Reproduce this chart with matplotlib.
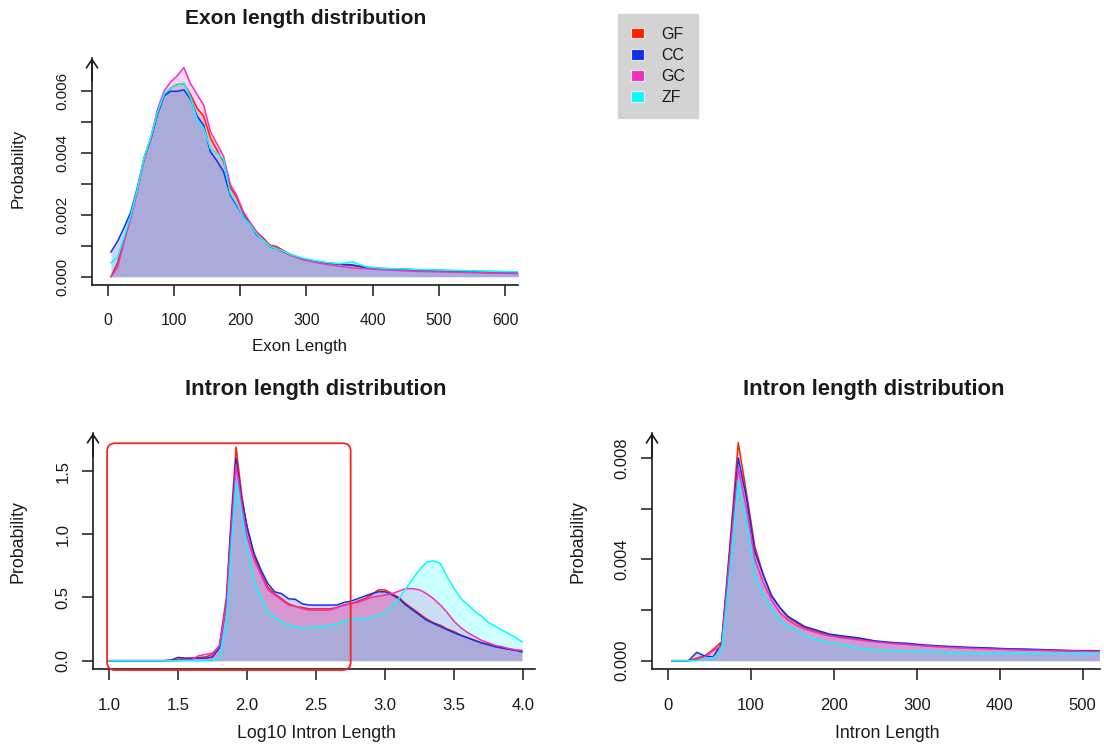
import matplotlib
matplotlib.use('Agg')
import matplotlib.pyplot as plt
from matplotlib.patches import Patch, FancyBboxPatch
from matplotlib.transforms import IdentityTransform

plt.rcParams['font.family'] = ['Liberation Sans', 'DejaVu Sans']

# ---------------- data ----------------
series_names = ['GF', 'CC', 'GC', 'ZF']
series_colors = ['#FF2000', '#1030F0', '#F030C0', '#00FFFF']

exon_x = [5, 15, 25, 35, 45, 55, 65, 75, 85, 95, 105, 115, 125, 135, 145, 155, 165, 175, 185, 195,
          205, 215, 225, 235, 245, 255, 265, 275, 285, 295, 310, 330, 350, 370, 390, 410, 430, 450,
          470, 490, 510, 530, 550, 570, 590, 610, 620]
exon_gf = [0.00000, 0.00045, 0.00120, 0.00195, 0.00280, 0.00380, 0.00445, 0.00525, 0.00585, 0.00610,
           0.00622, 0.00625, 0.00590, 0.00545, 0.00520, 0.00450, 0.00410, 0.00372, 0.00290, 0.00255,
           0.00205, 0.00175, 0.00145, 0.00125, 0.00102, 0.00098, 0.00085, 0.00073, 0.00065, 0.00058,
           0.00051, 0.00044, 0.00040, 0.00036, 0.00029, 0.00026, 0.00024, 0.00022, 0.00020, 0.00019,
           0.00018, 0.00017, 0.00016, 0.00015, 0.00014, 0.00013, 0.00013]
exon_cc = [0.00080, 0.00115, 0.00160, 0.00210, 0.00290, 0.00385, 0.00445, 0.00525, 0.00585, 0.00600,
           0.00600, 0.00605, 0.00575, 0.00520, 0.00490, 0.00405, 0.00375, 0.00340, 0.00265, 0.00230,
           0.00195, 0.00170, 0.00135, 0.00120, 0.00097, 0.00090, 0.00082, 0.00072, 0.00064, 0.00058,
           0.00052, 0.00045, 0.00041, 0.00038, 0.00030, 0.00027, 0.00025, 0.00024, 0.00022, 0.00021,
           0.00020, 0.00019, 0.00018, 0.00017, 0.00016, 0.00015, 0.00015]
exon_gc = [0.00000, 0.00030, 0.00115, 0.00190, 0.00280, 0.00385, 0.00450, 0.00540, 0.00600, 0.00630,
           0.00650, 0.00677, 0.00625, 0.00590, 0.00555, 0.00470, 0.00430, 0.00390, 0.00300, 0.00262,
           0.00210, 0.00175, 0.00143, 0.00120, 0.00100, 0.00092, 0.00080, 0.00070, 0.00062, 0.00055,
           0.00048, 0.00040, 0.00034, 0.00028, 0.00026, 0.00023, 0.00021, 0.00019, 0.00017, 0.00016,
           0.00015, 0.00014, 0.00013, 0.00012, 0.00011, 0.00010, 0.00010]
exon_zf = [0.00045, 0.00065, 0.00130, 0.00200, 0.00285, 0.00385, 0.00450, 0.00530, 0.00590, 0.00610,
           0.00620, 0.00627, 0.00580, 0.00510, 0.00480, 0.00415, 0.00400, 0.00380, 0.00270, 0.00235,
           0.00192, 0.00168, 0.00138, 0.00118, 0.00098, 0.00090, 0.00083, 0.00073, 0.00066, 0.00060,
           0.00053, 0.00046, 0.00042, 0.00048, 0.00032, 0.00028, 0.00026, 0.00025, 0.00023, 0.00022,
           0.00021, 0.00020, 0.00019, 0.00018, 0.00017, 0.00016, 0.00016]

log_x = [1.00, 1.40, 1.45, 1.50, 1.55, 1.60, 1.65, 1.70, 1.75, 1.80, 1.85, 1.88, 1.92, 1.96, 2.00,
         2.05, 2.10, 2.15, 2.20, 2.25, 2.30, 2.35, 2.40, 2.45, 2.50, 2.55, 2.60, 2.65, 2.70, 2.75,
         2.80, 2.85, 2.90, 2.95, 3.00, 3.05, 3.10, 3.15, 3.20, 3.25, 3.30, 3.35, 3.40, 3.45, 3.50,
         3.55, 3.60, 3.65, 3.70, 3.75, 3.80, 3.85, 3.90, 3.95, 3.99]
log_gf = [0.00, 0.00, 0.005, 0.01, 0.015, 0.02, 0.025, 0.03, 0.05, 0.12, 0.50, 1.05, 1.69, 1.32, 1.05,
          0.83, 0.70, 0.58, 0.53, 0.49, 0.45, 0.43, 0.42, 0.41, 0.41, 0.41, 0.41, 0.42, 0.44, 0.45,
          0.47, 0.49, 0.52, 0.56, 0.56, 0.53, 0.50, 0.45, 0.41, 0.37, 0.33, 0.30, 0.28, 0.25, 0.23,
          0.20, 0.18, 0.16, 0.14, 0.13, 0.11, 0.10, 0.09, 0.085, 0.08]
log_cc = [0.00, 0.00, 0.005, 0.026, 0.02, 0.02, 0.02, 0.02, 0.03, 0.10, 0.45, 1.00, 1.60, 1.29, 1.06,
          0.85, 0.72, 0.61, 0.545, 0.53, 0.49, 0.485, 0.45, 0.44, 0.44, 0.44, 0.44, 0.44, 0.46, 0.47,
          0.49, 0.51, 0.53, 0.545, 0.545, 0.52, 0.49, 0.44, 0.40, 0.36, 0.32, 0.295, 0.27, 0.245, 0.22,
          0.20, 0.18, 0.16, 0.14, 0.125, 0.11, 0.10, 0.09, 0.08, 0.07]
log_gc = [0.00, 0.00, 0.00, 0.00, 0.005, 0.01, 0.04, 0.05, 0.06, 0.12, 0.45, 0.95, 1.55, 1.25, 0.98,
          0.80, 0.68, 0.56, 0.52, 0.48, 0.44, 0.43, 0.41, 0.40, 0.40, 0.40, 0.40, 0.42, 0.44, 0.45,
          0.46, 0.48, 0.50, 0.51, 0.52, 0.53, 0.55, 0.57, 0.57, 0.56, 0.53, 0.49, 0.44, 0.38, 0.31,
          0.26, 0.22, 0.19, 0.16, 0.14, 0.12, 0.11, 0.095, 0.085, 0.08]
log_zf = [0.00, 0.00, 0.00, 0.00, 0.00, 0.00, 0.00, 0.00, 0.00, 0.02, 0.30, 0.80, 1.42, 1.15, 0.88,
          0.64, 0.50, 0.39, 0.34, 0.31, 0.28, 0.27, 0.255, 0.26, 0.27, 0.27, 0.28, 0.29, 0.31, 0.33,
          0.33, 0.33, 0.34, 0.36, 0.38, 0.43, 0.49, 0.57, 0.65, 0.72, 0.78, 0.79, 0.77, 0.66, 0.57,
          0.49, 0.44, 0.39, 0.35, 0.30, 0.27, 0.24, 0.21, 0.18, 0.15]

intron_x = [5, 15, 25, 35, 45, 55, 65, 75, 85, 95, 105, 115, 125, 135, 145, 155, 165, 175, 185, 195,
            210, 230, 250, 270, 290, 310, 330, 350, 370, 390, 410, 430, 450, 470, 490, 510, 520]
intron_gf = [0, 0, 0, 0.00010, 0.00020, 0.00045, 0.00075, 0.00460, 0.00860, 0.00660, 0.00450,
             0.00340, 0.00260, 0.00210, 0.00170, 0.00150, 0.00130, 0.00120, 0.00110, 0.00100,
             0.00094, 0.00086, 0.00077, 0.00069, 0.00065, 0.00059, 0.00055, 0.00052, 0.00050,
             0.00048, 0.00045, 0.00044, 0.00042, 0.00040, 0.00039, 0.00038, 0.00037]
intron_cc = [0, 0, 0, 0.00033, 0.00018, 0.00015, 0.00070, 0.00440, 0.00800, 0.00640, 0.00430,
             0.00340, 0.00255, 0.00210, 0.00175, 0.00155, 0.00135, 0.00125, 0.00115, 0.00105,
             0.00098, 0.00090, 0.00078, 0.00072, 0.00068, 0.00062, 0.00058, 0.00055, 0.00052,
             0.00050, 0.00047, 0.00046, 0.00044, 0.00042, 0.00040, 0.00040, 0.00039]
intron_gc = [0, 0, 0, 0.00005, 0.00015, 0.00040, 0.00060, 0.00420, 0.00760, 0.00600, 0.00400,
             0.00310, 0.00240, 0.00190, 0.00160, 0.00140, 0.00125, 0.00115, 0.00105, 0.00098,
             0.00090, 0.00082, 0.00074, 0.00068, 0.00063, 0.00058, 0.00054, 0.00051, 0.00048,
             0.00046, 0.00044, 0.00042, 0.00041, 0.00039, 0.00038, 0.00037, 0.00037]
intron_zf = [0, 0, 0, 0, 0.00010, 0.00012, 0.00040, 0.00350, 0.00710, 0.00540, 0.00340,
             0.00260, 0.00210, 0.00160, 0.00135, 0.00120, 0.00100, 0.00088, 0.00078, 0.00070,
             0.00065, 0.00050, 0.00043, 0.00040, 0.00038, 0.00036, 0.00034, 0.00032, 0.00031,
             0.00030, 0.00029, 0.00029, 0.00028, 0.00028, 0.00028, 0.00027, 0.00027]

highlight_x = [0.986, 2.75]
highlight_y = [-0.074, 1.72]

# ---------------- layout helpers ----------------
W, H = 1104, 749
fig = plt.figure(figsize=(W / 100, H / 100), dpi=100)
INK = '#1A1A1A'


def rect_px(left, top, right, bottom):
    return [left / W, 1 - bottom / H, (right - left) / W, (bottom - top) / H]


def px(x, y):
    return x / W, 1 - y / H


def style_axes(ax, xlim, ylim, xticks, xticklabels, yticks, yticklabels, xsize, ysize, xpad):
    ax.set_xlim(xlim)
    ax.set_ylim(ylim)
    ax.patch.set_alpha(0)
    for s in ['top', 'right']:
        ax.spines[s].set_visible(False)
    for s in ['left', 'bottom']:
        ax.spines[s].set_linewidth(1.2)
        ax.spines[s].set_color(INK)
    ax.set_xticks(xticks)
    ax.set_xticklabels(xticklabels)
    ax.set_yticks(yticks)
    ax.set_yticklabels(yticklabels, rotation=90, va='center')
    ax.tick_params(axis='both', length=8, width=1.1, color=INK, labelcolor=INK)
    ax.tick_params(axis='x', pad=xpad, labelsize=xsize)
    ax.tick_params(axis='y', pad=8, labelsize=ysize)
    ax.annotate('', xy=(0, 1), xycoords='axes fraction', xytext=(0, 0.9),
                arrowprops=dict(arrowstyle='->,head_length=0.6,head_width=0.4', lw=1.2,
                                color=INK, shrinkA=0, shrinkB=0))


def draw_series(ax, x, ys):
    for y, c in zip(ys, series_colors):
        ax.fill_between(x, 0, y, color=c, alpha=0.2, lw=0)
    for y, c in zip(ys, series_colors):
        ax.plot(x, y, color=c, lw=1.1)


# ---------------- top: exon ----------------
ax1 = fig.add_axes(rect_px(92, 58, 518, 285))
draw_series(ax1, exon_x, [exon_gf, exon_cc, exon_gc, exon_zf])
style_axes(ax1, (-23.7, 619.6), (-0.000269, 0.007078),
           [0, 100, 200, 300, 400, 500, 600], ['0', '100', '200', '300', '400', '500', '600'],
           [0, 0.001, 0.002, 0.003, 0.004, 0.005, 0.006],
           ['0.000', '', '0.002', '', '0.004', '', '0.006'], 11.3, 11, 12)

# ---------------- bottom-left: log10 intron ----------------
ax2 = fig.add_axes(rect_px(93, 433, 535, 669))
draw_series(ax2, log_x, [log_gf, log_cc, log_gc, log_zf])
style_axes(ax2, (0.884, 4.085), (-0.0657, 1.801),
           [1.0, 1.5, 2.0, 2.5, 3.0, 3.5, 4.0], ['1.0', '1.5', '2.0', '2.5', '3.0', '3.5', '4.0'],
           [0, 0.5, 1.0, 1.5], ['0.0', '0.5', '1.0', '1.5'], 12, 12, 13)

# ---------------- bottom-right: intron ----------------
ax3 = fig.add_axes(rect_px(652, 433, 1100, 669))
draw_series(ax3, intron_x, [intron_gf, intron_cc, intron_gc, intron_zf])
style_axes(ax3, (-18.9, 520.8), (-0.000327, 0.008982),
           [0, 100, 200, 300, 400, 500], ['0', '100', '200', '300', '400', '500'],
           [0, 0.002, 0.004, 0.006, 0.008], ['0.000', '', '0.004', '', '0.008'], 12, 12, 13)

# ---------------- texts ----------------
fig.text(*px(306, 18), 'Exon length distribution', fontsize=15.1, fontweight='bold',
         color=INK, ha='center', va='center')
fig.text(*px(316, 390), 'Intron length distribution', fontsize=15.8, fontweight='bold',
         color=INK, ha='center', va='center')
fig.text(*px(874, 390), 'Intron length distribution', fontsize=15.8, fontweight='bold',
         color=INK, ha='center', va='center')

top_lab = dict(fontsize=12.2, color=INK, ha='center', va='center')
bot_lab = dict(fontsize=12.8, color=INK, ha='center', va='center')
fig.text(*px(299, 346), 'Exon Length', **top_lab)
fig.text(*px(316, 733), 'Log10 Intron Length', **bot_lab)
fig.text(*px(887, 733), 'Intron Length', **bot_lab)
fig.text(*px(18, 168), 'Probability', rotation=90, **top_lab)
fig.text(*px(18, 542), 'Probability', rotation=90, **bot_lab)
fig.text(*px(578, 542), 'Probability', rotation=90, **bot_lab)

# ---------------- highlight box ----------------
fig.canvas.draw()
(x0, y0) = ax2.transData.transform((highlight_x[0], highlight_y[0]))
(x1, y1) = ax2.transData.transform((highlight_x[1], highlight_y[1]))
box = FancyBboxPatch((x0, y0), x1 - x0, y1 - y0, boxstyle='round,pad=0,rounding_size=8',
                     transform=IdentityTransform(), fill=False, edgecolor='#FF2020', lw=1.3,
                     clip_on=False)
fig.add_artist(box)

# ---------------- legend ----------------
handles = [Patch(facecolor=c, edgecolor='#F2E6E6', lw=0.8) for c in series_colors]
fig.legend(handles, series_names, loc='upper left', bbox_to_anchor=px(618, 14),
           frameon=True, fancybox=False, facecolor='#D3D3D3', edgecolor='#D3D3D3', framealpha=1,
           fontsize=11.5, handlelength=0.85, handleheight=0.65, handletextpad=1.05,
           labelspacing=0.38, borderpad=0.8, borderaxespad=0, labelcolor=INK)

fig.savefig('out.png', dpi=100)
